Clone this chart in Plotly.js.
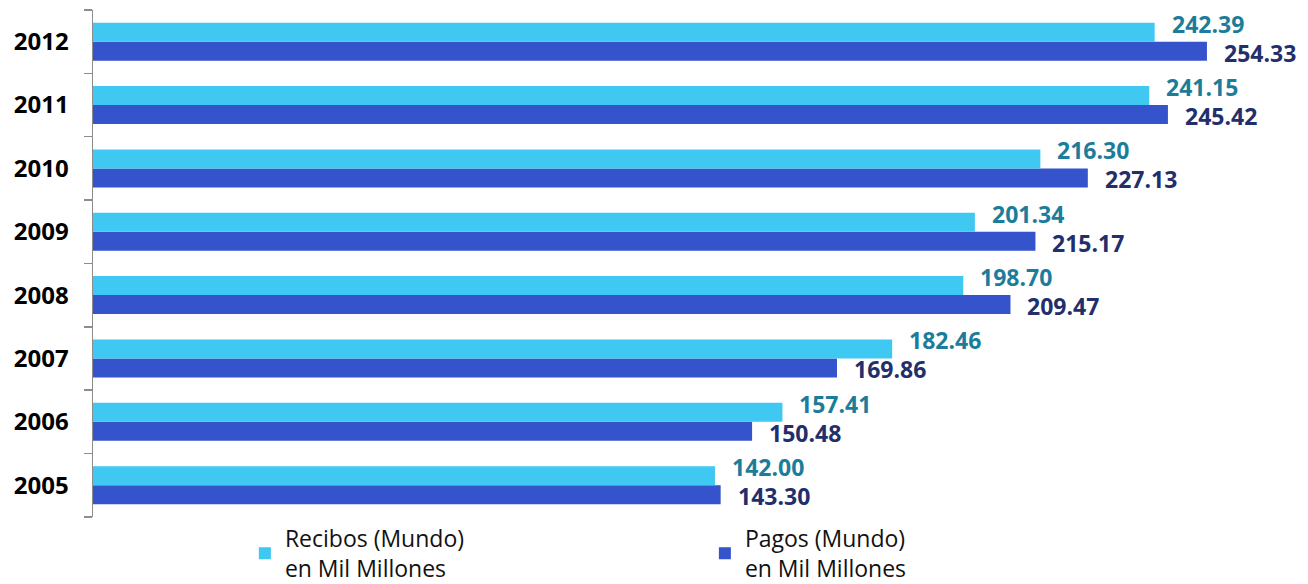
<!DOCTYPE html>
<html><head><meta charset="utf-8">
<script src="https://cdn.plot.ly/plotly-3.0.1.min.js"></script>
<style>html,body{margin:0;padding:0;background:#fff}#chart{width:1308px;height:584px}</style>
</head><body><div id="chart"></div>
<script>
const years = ['2005','2006','2007','2008','2009','2010','2011','2012'];
const recibos = [142.00,157.41,182.46,198.70,201.34,216.30,241.15,242.39];
const pagos = [143.30,150.48,169.86,209.47,215.17,227.13,245.42,254.33];
const recibosName = 'Recibos (Mundo)<br>en Mil Millones';
const pagosName = 'Pagos (Mundo)<br>en Mil Millones';

const FONT = 'Open Sans, Noto Sans, sans-serif';
const cRec = '#3ec8f2', cPag = '#3553cb';

const traces = [
  {type:'bar', orientation:'h', y:years, x:pagos, name:pagosName,
   marker:{color:cPag}, legendrank:2, hoverinfo:'x'},
  {type:'bar', orientation:'h', y:years, x:recibos, name:recibosName,
   marker:{color:cRec}, legendrank:1, hoverinfo:'x'}
];

const ann = [];
years.forEach((yr,i)=>{
  ann.push({x:recibos[i], y:i, xref:'x', yref:'y', text:recibos[i].toFixed(2),
    showarrow:false, xanchor:'left', yanchor:'middle', xshift:15, yshift:18,
    font:{family:FONT, size:23, color:'#1b7d9b', weight:'bold'}});
  ann.push({x:pagos[i], y:i, xref:'x', yref:'y', text:pagos[i].toFixed(2),
    showarrow:false, xanchor:'left', yanchor:'middle', xshift:15, yshift:-11,
    font:{family:FONT, size:23, color:'#232f6a', weight:'bold'}});
});

const layout = {
  width:1308, height:584,
  margin:{l:93, r:0, t:10, b:67},
  paper_bgcolor:'#fff', plot_bgcolor:'#fff',
  barmode:'group', bargap:0.4, bargroupgap:0,
  showlegend:true,
  legend:{orientation:'h', x:0.125, xanchor:'left', yref:'container', y:0.115, yanchor:'top',
    entrywidth:415, entrywidthmode:'pixels', bgcolor:'rgba(0,0,0,0)',
    font:{family:FONT, size:23, color:'#111'}, traceorder:'normal'},
  xaxis:{range:[0,277.4], visible:false, showgrid:false, zeroline:false, fixedrange:true},
  yaxis:{type:'category', range:[-0.5,7.5], autorange:false,
    showline:true, linecolor:'#8c8c8c', linewidth:1.5,
    ticks:'outside', tickson:'boundaries', ticklen:8, tickcolor:'#8c8c8c', tickwidth:1.5,
    ticklabelstandoff:18,
    tickfont:{family:FONT, size:24, color:'#000', weight:'bold'},
    showgrid:false, zeroline:false, fixedrange:true},
  annotations:ann
};
Plotly.newPlot('chart', traces, layout, {displayModeBar:false, staticPlot:true});
</script></body></html>
